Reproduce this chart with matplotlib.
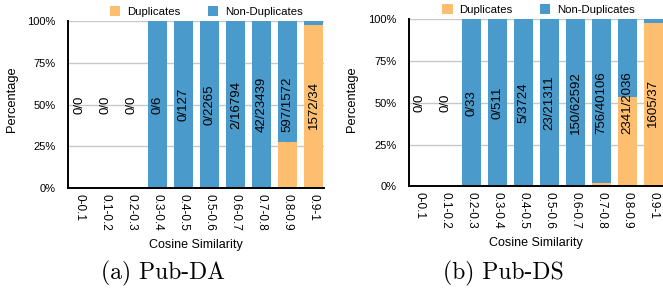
import matplotlib
matplotlib.use("Agg")
import matplotlib.pyplot as plt
import numpy as np

BINS = ["0-0.1", "0.1-0.2", "0.2-0.3", "0.3-0.4", "0.4-0.5",
        "0.5-0.6", "0.6-0.7", "0.7-0.8", "0.8-0.9", "0.9-1"]

# duplicate / non-duplicate counts per cosine-similarity bin
DA_DUP = [0, 0, 0, 0, 0, 0, 2, 42, 597, 1572]
DA_NON = [0, 0, 0, 6, 127, 2265, 16794, 23439, 1572, 34]

DS_DUP = [0, 0, 0, 0, 5, 23, 150, 756, 2341, 1605]
DS_NON = [0, 0, 33, 511, 3724, 21311, 62592, 40106, 2036, 37]

ORANGE = "#FDBF6F"
BLUE = "#4A9BCB"

plt.rcParams["font.family"] = ["Liberation Sans", "DejaVu Sans"]


def draw_panel(ax, dup, non, xlim):
    dup = np.array(dup, dtype=float)
    non = np.array(non, dtype=float)
    total = dup + non
    safe = np.where(total > 0, total, 1)
    dup_pct = np.where(total > 0, dup / safe * 100, 0)
    non_pct = np.where(total > 0, non / safe * 100, 0)

    x = np.arange(len(BINS))
    ax.bar(x, dup_pct, width=0.73, color=ORANGE, label="Duplicates", zorder=2)
    ax.bar(x, non_pct, width=0.73, bottom=dup_pct, color=BLUE,
           label="Non-Duplicates", zorder=2)

    for i in x:
        ax.text(i, 50, f"{int(dup[i])}/{int(non[i])}", rotation=90,
                ha="center", va="center", fontsize=9.5, zorder=3)

    ax.set_xlim(*xlim)
    ax.set_ylim(0, 100)
    ax.set_yticks([0, 25, 50, 75, 100])
    ax.set_yticklabels(["0%", "25%", "50%", "75%", "100%"], fontsize=8)
    ax.set_xticks(x)
    ax.set_xticklabels(BINS, rotation=-90, fontsize=8.5, va="top", ha="center")
    ax.tick_params(axis="y", length=0, pad=9)
    ax.tick_params(axis="x", length=0, pad=4)
    ax.grid(axis="y", color="#c8c8c8", lw=1, zorder=0)
    for s in ("top", "right"):
        ax.spines[s].set_visible(False)
    for s in ("left", "bottom"):
        ax.spines[s].set_linewidth(1.4)
        ax.spines[s].set_zorder(4)
    ax.set_xlabel("Cosine Similarity", fontsize=9, labelpad=6)


fig = plt.figure(figsize=(6.63, 2.93), dpi=100)

ax1 = fig.add_axes([0.1026, 0.358, 0.386, 0.570])
draw_panel(ax1, DA_DUP, DA_NON, (-0.46, 9.39))
ax1.legend(loc="lower center", bbox_to_anchor=(0.54, 0.99), ncol=2,
           frameon=False, fontsize=8.2, handlelength=0.9, handleheight=0.9,
           handletextpad=0.6, columnspacing=2.4, borderpad=0)

ax2 = fig.add_axes([0.617, 0.3635, 0.383, 0.5715])
draw_panel(ax2, DS_DUP, DS_NON, (-0.42, 9.37))
ax2.legend(loc="lower center", bbox_to_anchor=(0.51, 0.99), ncol=2,
           frameon=False, fontsize=8.2, handlelength=0.9, handleheight=0.9,
           handletextpad=0.6, columnspacing=2.4, borderpad=0)

fig.text(12 / 663, 0.66, "Percentage", rotation=90, ha="center", va="center",
         fontsize=9.3)
fig.text(352 / 663, 0.66, "Percentage", rotation=90, ha="center", va="center",
         fontsize=9.3)

fig.text(163 / 663, 0.068, "(a) Pub-DA", ha="center", va="center",
         fontsize=17, family="cmr10")
fig.text(503.5 / 663, 0.068, "(b) Pub-DS", ha="center", va="center",
         fontsize=17, family="cmr10")

fig.savefig("out.png", dpi=100)
